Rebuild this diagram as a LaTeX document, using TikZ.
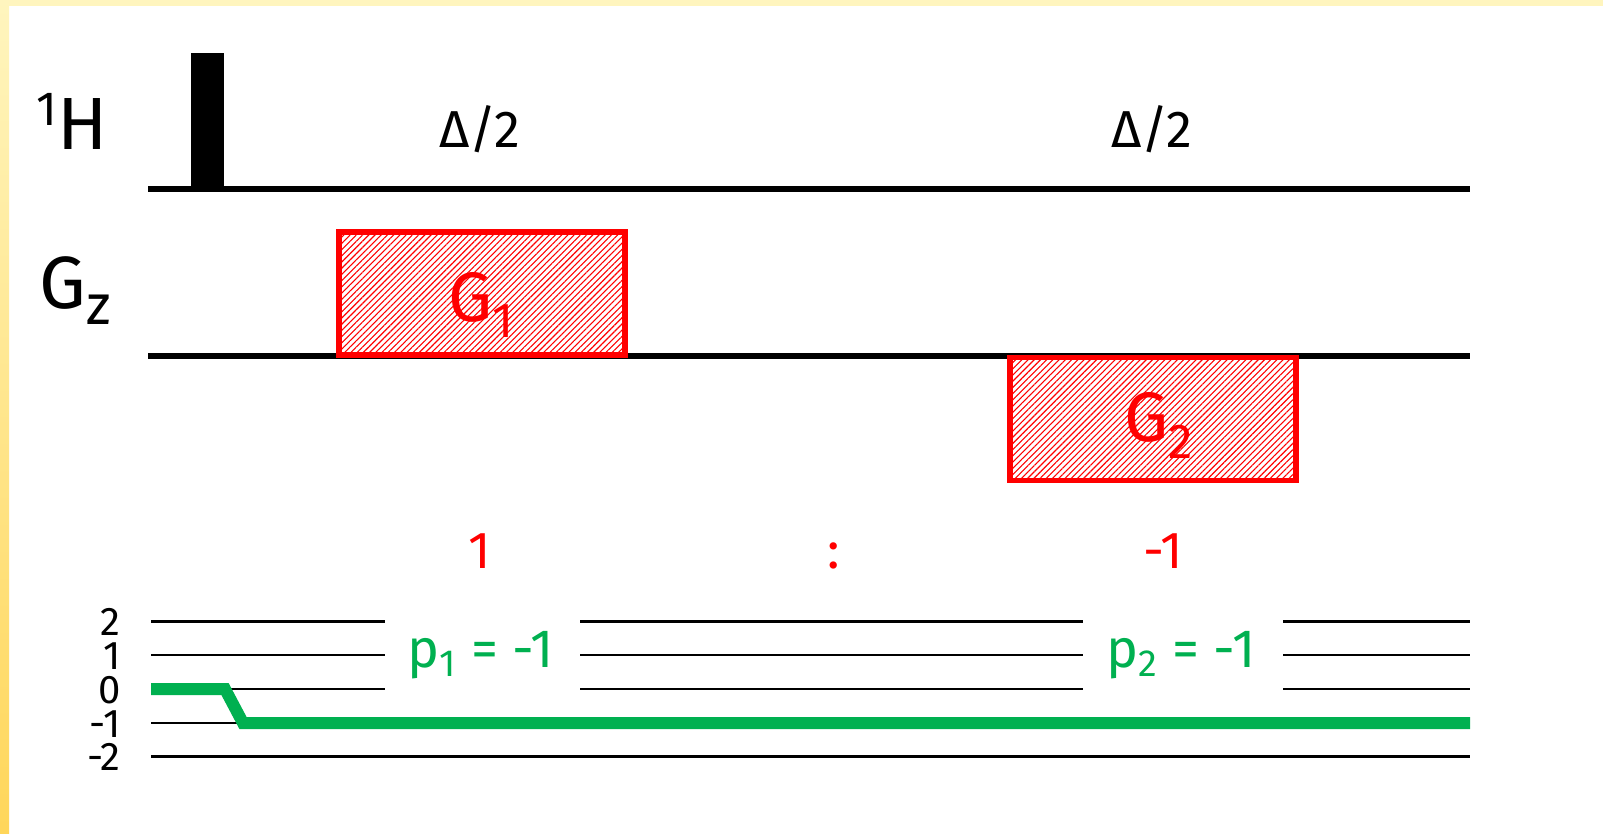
\documentclass[tikz,border=0pt]{standalone}
\usepackage{fontspec}
\setmainfont{Fira Sans}
\usetikzlibrary{patterns.meta}

\definecolor{seqgreen}{RGB}{0,176,80}
\definecolor{paleyellow}{RGB}{255,245,190}
\definecolor{deepyellow}{RGB}{255,214,90}

\begin{document}
\begin{tikzpicture}[
  x=0.5pt, y=-0.5pt,
  seqline/.style={draw=black, line width=2.6pt},
  levelline/.style={draw=black, line width=1.2pt},
  pathline/.style={draw=seqgreen, line width=6pt, line join=miter},
  gradbox/.style={rectangle, draw=red, line width=2.8pt, inner sep=0pt,
    minimum width=143pt, minimum height=61.5pt,
    pattern={Lines[angle=45,distance=2.2pt,line width=0.55pt]}, pattern color=red},
  chanlabel/.style={font=\fontsize{37}{40}\selectfont, inner sep=0pt},
  delaylabel/.style={font=\fontsize{26}{28}\selectfont, inner sep=0pt},
  gradlabel/.style={font=\fontsize{35}{38}\selectfont, text=red, inner sep=0pt, anchor=base},
  ratiolabel/.style={font=\fontsize{26}{30}\selectfont, text=red, inner sep=0pt, anchor=base},
  levellabel/.style={font=\fontsize{20}{20}\selectfont, inner sep=0pt, anchor=east,
    text height=14pt, text depth=0pt},
  pathlabel/.style={font=\fontsize{27}{30}\selectfont, text=seqgreen, inner sep=0pt, anchor=base}
]
  % frame
  \useasboundingbox (0,0) rectangle (1603,834);
  \fill[white] (0,0) rectangle (1603,834);
  \fill[paleyellow] (0,0) rectangle (1603,6);
  \shade[top color=paleyellow, bottom color=deepyellow] (0,0) rectangle (9,834);

  % channels
  \node[chanlabel, anchor=base east] (hlab) at (108,150) {\raisebox{12pt}{\fontsize{24}{24}\selectfont 1}H};
  \node[chanlabel, anchor=base west] (gzlab) at (39,309) {G\raisebox{-8pt}{\fontsize{28}{28}\selectfont z}};

  \coordinate (hstart) at (148,189);
  \coordinate (hend) at (1470,189);
  \coordinate (gstart) at (148,356);
  \coordinate (gend) at (1470,356);
  \draw[seqline] (hstart) -- (hend);
  \draw[seqline] (gstart) -- (gend);

  % hard pulse
  \fill[black] (191,53) rectangle (224,190);

  \node[delaylabel] (delay1) at (480,129) {Δ/2};
  \node[delaylabel] (delay2) at (1152,129) {Δ/2};

  % gradients
  \node[gradbox] (g1box) at (482,293.5) {};
  \node[gradbox] (g2box) at (1153,419) {};
  \node[gradlabel] (g1text) at ([yshift=-14pt]g1box.center) {G\textsubscript{1}};
  \node[gradlabel] (g2text) at ([xshift=3pt,yshift=-11.5pt]g2box.center) {G\textsubscript{2}};

  % ratio
  \node[ratiolabel] (ratio1) at (480,568) {1};
  \node[ratiolabel] (ratiosep) at (834,568) {:};
  \node[ratiolabel] (ratio2) at (1163,568) {-1};

  % coherence levels
  \foreach \lev/\yy/\nm in {2/621.5/lvA, 1/655/lvB, 0/689/lvC}{
    \node[levellabel] (\nm) at (121,\yy) {\lev};
    \draw[levelline] (151,\yy) -- (385,\yy);
    \draw[levelline] (580,\yy) -- (1083,\yy);
    \draw[levelline] (1283,\yy) -- (1470,\yy);
  }
  \foreach \lev/\yy/\nm in {-1/723/lvD, -2/756.5/lvE}{
    \node[levellabel] (\nm) at (121,\yy) {\lev};
    \draw[levelline] (151,\yy) -- (1470,\yy);
  }

  \node[pathlabel] (p1text) at (481,668) {p\textsubscript{1} = -1};
  \node[pathlabel] (p2text) at (1181,668) {p\textsubscript{2} = -1};

  % coherence pathway
  \coordinate (pstart) at (151,689);
  \coordinate (pkink) at (225,689);
  \coordinate (pdown) at (243,723);
  \coordinate (pend) at (1470,723);
  \draw[pathline] (pstart) -- (pkink) -- (pdown) -- (pend);
\end{tikzpicture}
\end{document}
